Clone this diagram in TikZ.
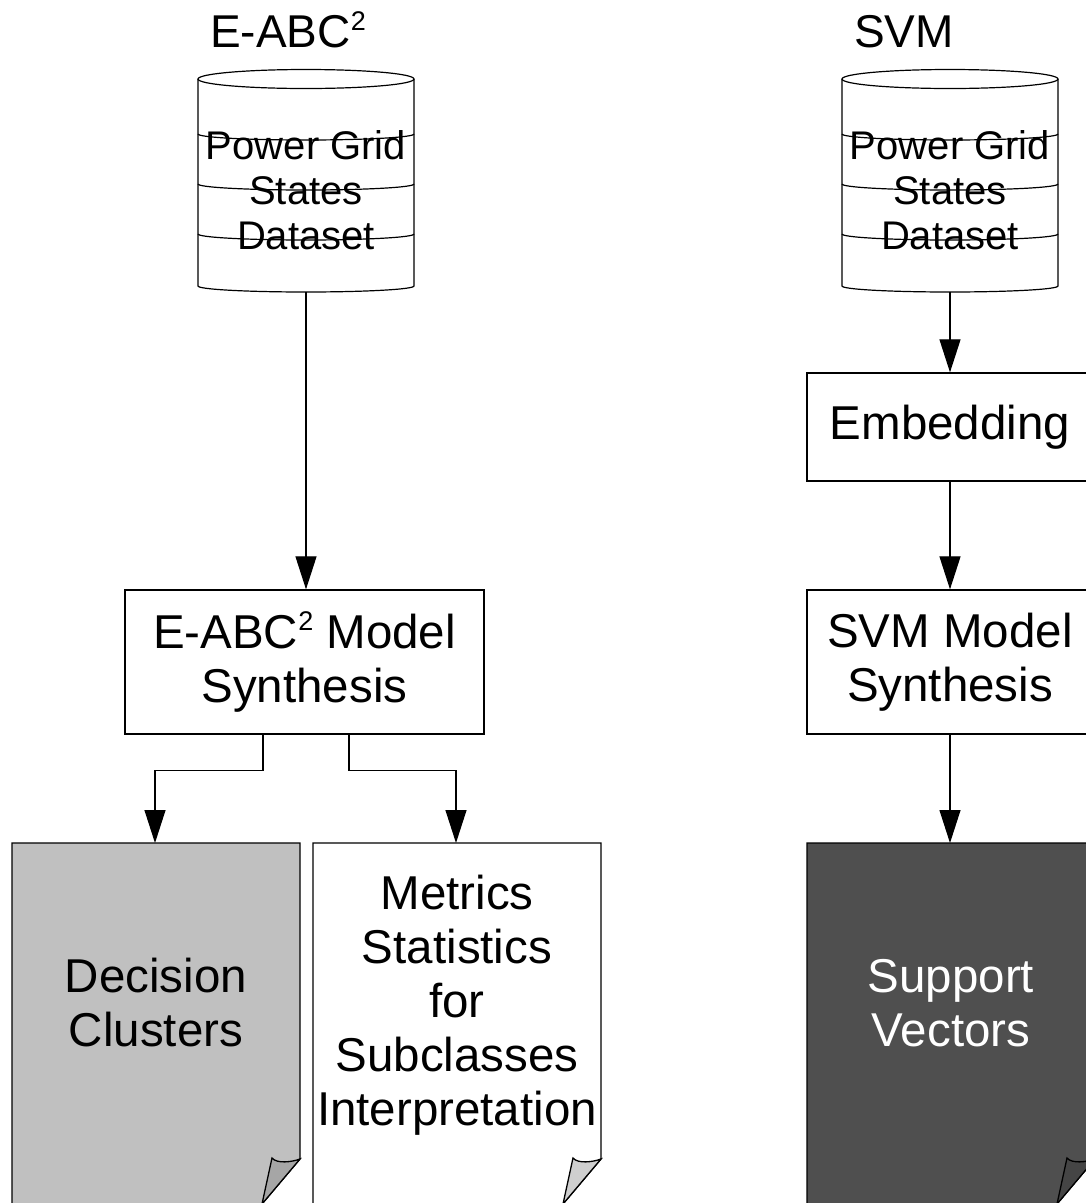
\documentclass[tikz,border=0pt]{standalone}
\usepackage{fontspec}
\setmainfont{Liberation Sans}
\usetikzlibrary{arrows.meta}

\definecolor{pagelight}{HTML}{C0C0C0}
\definecolor{flaplight}{HTML}{A6A6A6}
\definecolor{flapwhite}{HTML}{CFCFCF}
\definecolor{pagedark}{HTML}{4F4F4F}
\definecolor{flapdark}{HTML}{454545}

% small raised "2" for E-ABC squared
\newcommand\sqmark{\raisebox{0.36em}{\fontsize{27}{27}\selectfont 2}}

% cylinder (database) centred at x = #1
\newcommand\drawdatabase[1]{%
  \begin{scope}[shift={(#1,0)}]
    \draw[dbline] (0,79) ellipse [x radius=108, y radius=9.5];
    \draw[dbline] (-108,79) -- (-108,286)
      arc [start angle=180, end angle=0, x radius=108, y radius=6] -- (108,79);
    \foreach \yy in {134,184,234}
      \draw[dbline] (-108,\yy) arc [start angle=180, end angle=0, x radius=108, y radius=6];
  \end{scope}}

% document page with a curled lower-right corner, left edge at x = #1
\newcommand\drawdocument[3]{%
  \filldraw[docline, fill=#2] (#1,843) -- (#1+288,843) -- (#1+288,1159)
    -- (#1+250,1204) -- (#1,1204) -- cycle;
  \filldraw[docline, fill=#3] (#1+260,1158)
    .. controls (#1+265,1164) and (#1+280,1162) .. (#1+288,1159)
    -- (#1+250,1204) -- cycle;}

\begin{document}
\begin{tikzpicture}[x=1pt, y=-1pt,
  dbline/.style={line width=1.2pt},
  docline/.style={line width=1.3pt},
  title/.style={font=\fontsize{46}{53}\selectfont, inner sep=0pt},
  dbtext/.style={font=\fontsize{40}{45}\selectfont, align=center, inner sep=0pt},
  bigtext/.style={font=\fontsize{47.5}{54}\selectfont, align=center, inner sep=0pt},
  procbox/.style={draw, line width=1.3pt, fill=white, bigtext},
  anchorbox/.style={inner sep=0pt, outer sep=0pt},
  flow/.style={line width=1.2pt, -{Triangle[length=33pt, width=21pt]}}]

\clip (0,0) rectangle (1086,1203);
\fill[white] (0,0) rectangle (1086,1203);

% column titles
\node[title, anchor=base west] (t1) at (210,47) {E-ABC\sqmark};
\node[title, anchor=base west] (t2) at (854,47) {SVM};

% datasets
\drawdatabase{306}
\drawdatabase{950}
\node[anchorbox, minimum width=216pt, minimum height=223pt] (db1) at (306,180.5) {};
\node[anchorbox, minimum width=216pt, minimum height=223pt] (db2) at (950,180.5) {};
\node[dbtext] (db1t) at (306,190) {Power Grid\\States\\Dataset};
\node[dbtext] (db2t) at (950,190) {Power Grid\\States\\Dataset};

% processing steps
\node[procbox, minimum width=359pt, minimum height=144pt] (m1) at (304.5,662) {E-ABC\sqmark{} Model\\Synthesis};
\node[procbox, minimum width=286pt, minimum height=108pt] (emb) at (950,427) {Embedding};
\node[procbox, minimum width=286pt, minimum height=144pt] (m2) at (950,662) {SVM Model\\Synthesis};

% output documents
\drawdocument{12}{pagelight}{flaplight}
\drawdocument{313}{white}{flapwhite}
\drawdocument{807}{pagedark}{flapdark}
\node[anchorbox, minimum width=288pt, minimum height=361pt] (d1) at (156,1023.5) {};
\node[anchorbox, minimum width=288pt, minimum height=361pt] (d2) at (457,1023.5) {};
\node[anchorbox, minimum width=288pt, minimum height=361pt] (d3) at (951,1023.5) {};
\node[bigtext] (d1t) at (156,1003) {Decision\\Clusters};
\node[bigtext] (d2t) at (457,1005) {Metrics\\Statistics\\for\\Subclasses\\Interpretation};
\node[bigtext, text=white] (d3t) at (951,1003) {Support\\Vectors};

% connectors
\draw[flow] (db1.south) -- (db1.south |- m1.north);
\draw[flow] ([xshift=-41.5pt]m1.south) -- ++(0,36) -| ([xshift=-1pt]d1.north);
\draw[flow] ([xshift=44.5pt]m1.south) -- ++(0,36) -| ([xshift=-1pt]d2.north);
\draw[flow] (db2.south) -- (emb.north);
\draw[flow] (emb.south) -- (m2.north);
\draw[flow] (m2.south) -- ([xshift=-1pt]d3.north);
\end{tikzpicture}
\end{document}
